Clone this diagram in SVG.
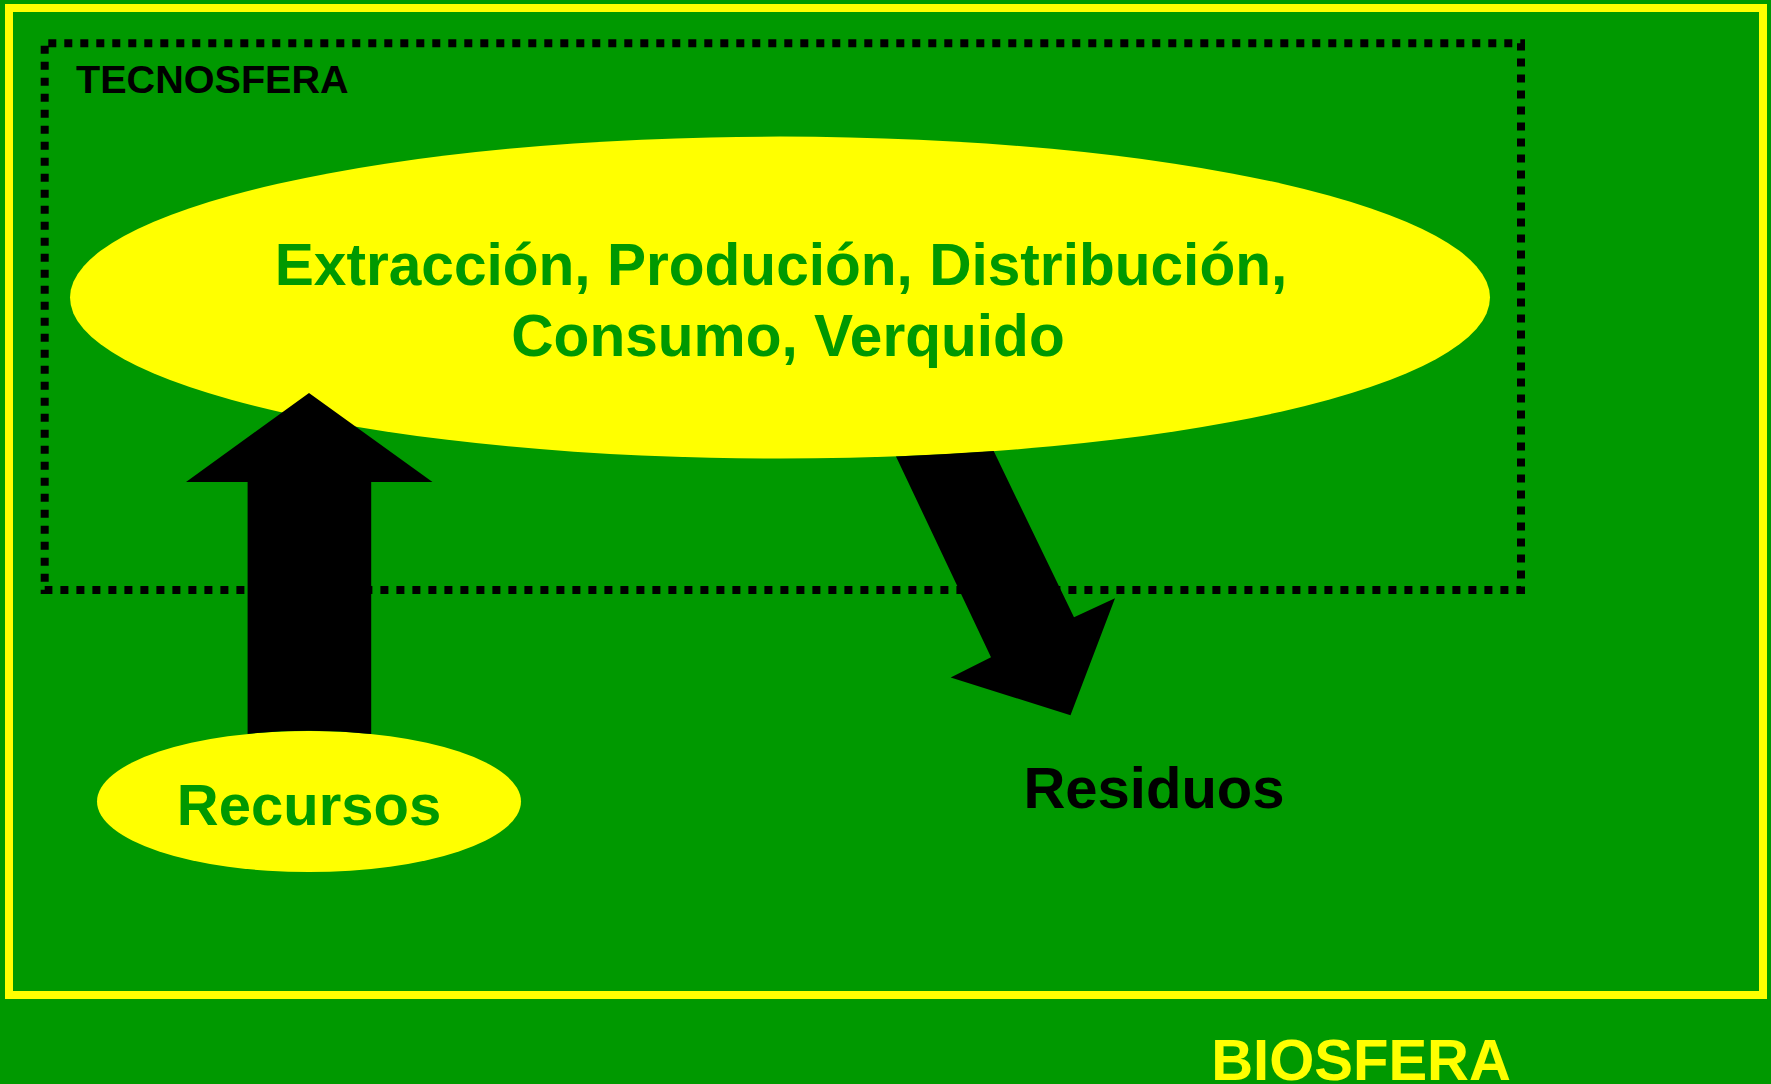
<svg xmlns="http://www.w3.org/2000/svg" width="1771" height="1084" viewBox="0 0 1771 1084">
  <style>
    .lbl { font-family: "Liberation Sans", Arial, sans-serif; font-weight: bold; text-anchor: middle; }
    .yel { fill: #FFFF00; }
    .grn { fill: #009900; }
    .blk { fill: #000000; }
    .arrow { fill: #000000; stroke: none; }
  </style>
  <rect x="0" y="0" width="1771" height="1084" fill="#009900"/>
  <g id="biosfera">
    <rect x="9" y="8" width="1754" height="987" fill="none" stroke="#FFFF00" stroke-width="8"/>
    <text class="lbl yel" x="1361" y="1080" font-size="58">BIOSFERA</text>
  </g>
  <g id="tecnosfera">
    <rect x="44.7" y="43.3" width="1476.3" height="546.7" fill="none" stroke="#000000" stroke-width="8" stroke-dasharray="8 8" stroke-dashoffset="12.4"/>
    <text class="lbl blk" x="76" y="93" font-size="39.6" style="text-anchor:start">TECNOSFERA</text>
  </g>
  <g id="proceso">
    <ellipse cx="780" cy="297.6" rx="710" ry="161" fill="#FFFF00"/>
    <text class="lbl grn" x="781" y="285" font-size="58.6">Extracción, Produción, Distribución,</text>
    <text class="lbl grn" x="788" y="356" font-size="58.6">Consumo, Verquido</text>
  </g>
  <g id="recursos">
    <ellipse cx="309" cy="801.5" rx="212" ry="70.6" fill="#FFFF00"/>
    <text class="lbl grn" x="309" y="824.5" font-size="58">Recursos</text>
  </g>
  <g id="residuos">
    <text class="lbl blk" x="1154" y="807.6" font-size="58">Residuos</text>
  </g>
  <g id="connectors">
    <path class="arrow" d="M 309 393 L 432.5 482 L 371.2 482 L 371.2 734 A 212 70.6 0 0 0 247.6 733.9 L 247.6 482 L 186 482 Z"/>
    <path class="arrow" d="M 896 456.4 A 710 161 0 0 0 993.7 451.1 L 1074 617.3 L 1115 598.3 L 1070.5 715.2 L 950.7 677.5 L 991 657.3 Z"/>
  </g>
</svg>
